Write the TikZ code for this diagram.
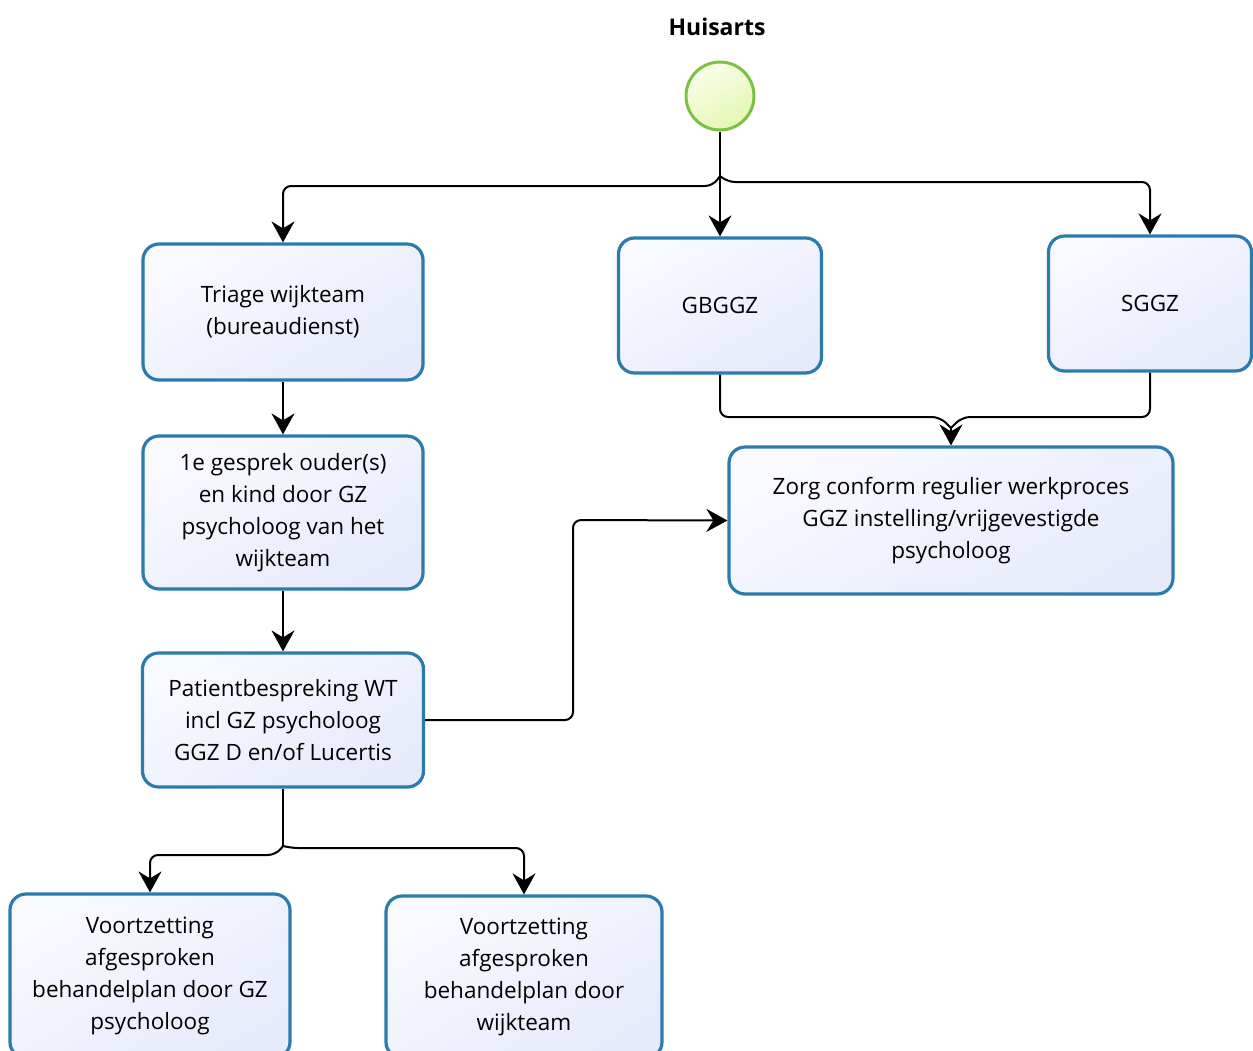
\documentclass[tikz,border=0pt]{standalone}
\usepackage{fontspec}
\setmainfont{Open Sans}
\usetikzlibrary{arrows.meta}
\definecolor{boxline}{HTML}{2A7BAE}
\definecolor{boxfillA}{HTML}{F9FAFF}
\definecolor{boxfillB}{HTML}{E6EAFA}
\definecolor{startline}{HTML}{7CC242}
\definecolor{startfillA}{HTML}{F8FEE8}
\definecolor{startfillB}{HTML}{E4F7B4}
\begin{document}
\begin{tikzpicture}[x=1pt,y=-1pt,
  task/.style={draw=boxline, line width=3.2pt, rounded corners=16pt,
    top color=boxfillA, bottom color=boxfillB, shading angle=30,
    align=center, inner sep=0pt, font=\fontsize{22.5}{32}\selectfont},
  flow/.style={line width=2pt, rounded corners=8pt,
    -{Stealth[length=21pt,width=23pt,inset=7pt]}},
  line/.style={line width=2pt, rounded corners=8pt}]
\useasboundingbox (0,0) rectangle (1253,1050);

\node[font=\bfseries\fontsize{23}{26}\selectfont] (title) at (717,27) {Huisarts};
\node[circle, draw=startline, line width=3pt, minimum size=68pt, inner sep=0pt,
  top color=startfillA, bottom color=startfillB, shading angle=30] (start) at (720,96) {};

\node[task, minimum width=280pt, minimum height=136pt] (tri) at (283,312) {Triage wijkteam\\(bureaudienst)};
\node[task, minimum width=203pt, minimum height=135pt] (gb) at (720,305.5) {GBGGZ};
\node[task, minimum width=203pt, minimum height=135pt] (sg) at (1150,303.5) {SGGZ};
\node[task, minimum width=280pt, minimum height=153pt] (ges) at (283,512.5) {1e gesprek ouder(s)\\en kind door GZ\\psycholoog van het\\wijkteam};
\node[task, minimum width=281pt, minimum height=134pt] (pat) at (283,720) {Patientbespreking WT\\incl GZ psycholoog\\GGZ D en/of Lucertis};
\node[task, minimum width=444pt, minimum height=147pt] (zorg) at (951,520.5) {Zorg conform regulier werkproces\\GGZ instelling/vrijgevestigde\\psycholoog};
\node[task, minimum width=280pt, minimum height=164pt] (v1) at (150,976) {Voortzetting\\afgesproken\\behandelplan door GZ\\psycholoog};
\node[task, minimum width=276pt, minimum height=162pt] (v2) at (524,977) {Voortzetting\\afgesproken\\behandelplan door\\wijkteam};

% top branching
\coordinate (j1) at (720,176);
\draw[flow] (start) -- (gb);
\draw[flow] (j1) -- (713,186) -- (283,186) -- (tri.north);
\draw[flow] (j1) -- (727,182) -- (1150,182) -- (sg.north);

% left column
\draw[flow] (tri) -- (ges);
\draw[flow] (ges) -- (pat);

% merge into Zorg
\coordinate (m) at (951,428);
\draw[line] (gb.south) -- (720,417) -- (940,417) -- (m);
\draw[line] (sg.south) -- (1150,417) -- (962,417) -- (m);
\draw[flow] (m) -- (zorg.north);

% patient to zorg
\draw[flow] (pat.east) -- (573,720) -- (573,520) -- (zorg.west);

% bottom branching
\coordinate (j2) at (283,846);
\draw[line] (pat.south) -- (j2);
\draw[flow] (j2) -- (276,855) -- (150,855) -- (v1.north);
\draw[flow] (j2) -- (290,848) -- (524,848) -- (v2.north);
\end{tikzpicture}
\end{document}
